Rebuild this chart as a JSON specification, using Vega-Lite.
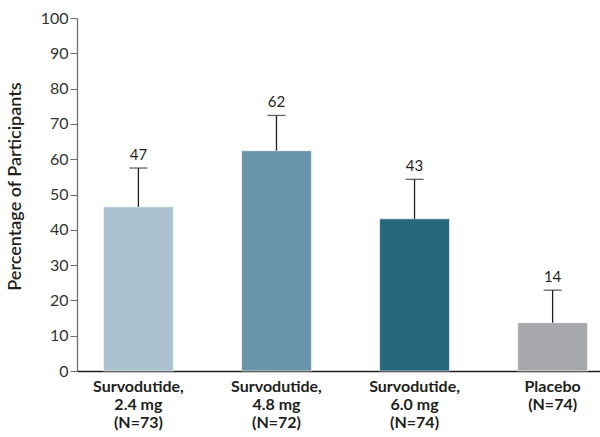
{
  "$schema": "https://vega.github.io/schema/vega-lite/v6.json",
  "width": 523,
  "height": 353,
  "autosize": {"type": "none"},
  "padding": {"left": 77, "top": 18, "right": 0, "bottom": 66},
  "background": "white",
  "config": {
    "view": {"stroke": null},
    "font": "Lato",
    "axisY": {
      "labelOverlap": false,
      "grid": false,
      "titleFontSize": 18,
      "titleFontWeight": 600,
      "titleColor": "#231f20",
      "titleAlign": "center",
      "titleBaseline": "middle",
      "titleAngle": -90,
      "titleX": -62,
      "titleY": 168,
      "labelFontSize": 16,
      "labelColor": "#333333",
      "labelPadding": 2,
      "tickSize": 7,
      "tickColor": "#6d6e71",
      "domainColor": "#6d6e71",
      "domainWidth": 1.3
    }
  },
  "data": {
    "values": [
      {"group": "Survodutide,|2.4 mg|(N=73)", "value": 46.5, "upper": 57.5, "label": "47"},
      {"group": "Survodutide,|4.8 mg|(N=72)", "value": 62.4, "upper": 72.4, "label": "62"},
      {"group": "Survodutide,|6.0 mg|(N=74)", "value": 43.1, "upper": 54.3, "label": "43"},
      {"group": "Placebo|(N=74)", "value": 13.7, "upper": 22.9, "label": "14"}
    ]
  },
  "encoding": {
    "x": {
      "field": "group",
      "type": "nominal",
      "sort": null,
      "scale": {"paddingInner": 0.494, "paddingOuter": 0.141, "align": 0.68},
      "axis": {
        "title": null,
        "labelAngle": 0,
        "labelExpr": "split(datum.label, '|')",
        "labelFontSize": 16,
        "labelFontWeight": "bold",
        "labelColor": "#231f20",
        "labelBaseline": "top",
        "labelLineHeight": 18,
        "labelPadding": 7,
        "ticks": false,
        "domainColor": "#231f20",
        "domainWidth": 1.3
      }
    }
  },
  "layer": [
    {
      "mark": {"type": "bar", "stroke": "white", "strokeWidth": 0.6},
      "encoding": {
        "y": {
          "field": "value",
          "type": "quantitative",
          "scale": {"domain": [0, 100], "nice": false},
          "axis": {"values": [0, 10, 20, 30, 40, 50, 60, 70, 80, 90, 100], "title": "Percentage of Participants"}
        },
        "color": {
          "field": "group",
          "type": "nominal",
          "sort": null,
          "legend": null,
          "scale": {"range": ["#abc3cf", "#6994aa", "#26677d", "#a7a9ac"]}
        }
      }
    },
    {
      "mark": {"type": "rule", "color": "#231f20", "strokeWidth": 1.3},
      "encoding": {
        "y": {"field": "value", "type": "quantitative", "axis": {"values": [0, 10, 20, 30, 40, 50, 60, 70, 80, 90, 100], "title": "Percentage of Participants"}},
        "y2": {"field": "upper"}
      }
    },
    {
      "mark": {"type": "tick", "color": "#231f20", "size": 18, "thickness": 1.3},
      "encoding": {
        "y": {"field": "upper", "type": "quantitative", "axis": {"values": [0, 10, 20, 30, 40, 50, 60, 70, 80, 90, 100], "title": "Percentage of Participants"}}
      }
    },
    {
      "mark": {"type": "text", "fontSize": 15, "color": "#231f20", "baseline": "alphabetic", "dy": -8},
      "encoding": {
        "y": {"field": "upper", "type": "quantitative", "axis": {"values": [0, 10, 20, 30, 40, 50, 60, 70, 80, 90, 100], "title": "Percentage of Participants"}},
        "text": {"field": "label"}
      }
    }
  ]
}
